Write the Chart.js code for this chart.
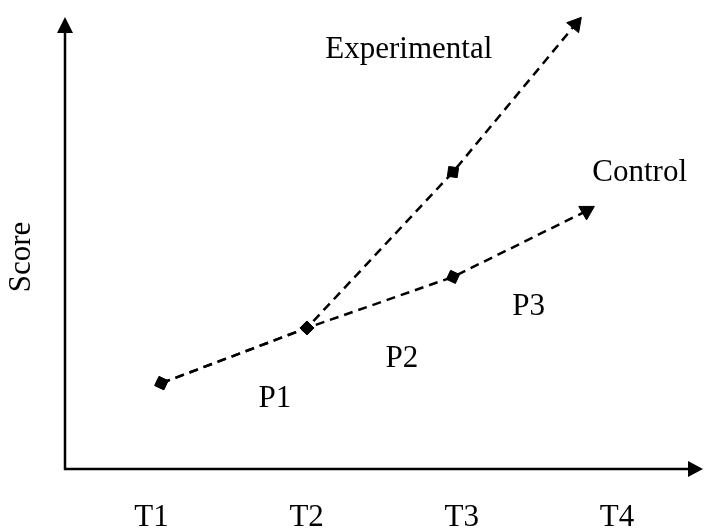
<!DOCTYPE html>
<html>
<head>
<meta charset="utf-8">
<script src="https://cdn.jsdelivr.net/npm/chart.js@4/dist/chart.umd.min.js"></script>
<style>
  html, body { margin: 0; padding: 0; background: #fff; }
  #wrap { width: 704px; height: 529px; }
</style>
</head>
<body>
<div id="wrap"><canvas id="chart"></canvas></div>
<script>
// values (x in time units, y in arbitrary score units)
const tickValues = [1, 2, 3, 4];
const tickLabels = ["T1", "T2", "T3", "T4"];
const expTimes = [1.064, 2.002, 2.943, 3.733];
const expScores = [19.0, 31.2, 65.7, 98.4];
const ctrlTimes = [1.064, 2.002, 2.943, 3.804];
const ctrlScores = [19.0, 31.2, 42.5, 57.1];
const yTitle = "Score";

const FONT = "'Liberation Serif', 'Times New Roman', serif";

// text labels placed in data units (centre x, baseline y)
const notes = [
    { text: "Experimental", x: 2.658, y: 90.9 },
    { text: "Control", x: 4.146, y: 63.7 },
    { text: "P1", x: 1.795, y: 13.7 },
    { text: "P2", x: 2.613, y: 22.6 },
    { text: "P3", x: 3.431, y: 34.1 }
];

const toPoints = (xs, ys) => xs.map((x, i) => ({ x: x, y: ys[i] }));

const axesPlugin = {
    id: "axesArrows",
    beforeDatasetsDraw(chart) {
        const { ctx, chartArea: a } = chart;
        ctx.save();
        ctx.strokeStyle = "#000";
        ctx.fillStyle = "#000";
        ctx.lineWidth = 2.5;
        // y axis
        ctx.beginPath();
        ctx.moveTo(a.left, a.bottom + 1);
        ctx.lineTo(a.left, a.top + 14);
        ctx.stroke();
        ctx.beginPath();
        ctx.moveTo(a.left, a.top);
        ctx.lineTo(a.left - 8, a.top + 16);
        ctx.lineTo(a.left + 8, a.top + 16);
        ctx.closePath();
        ctx.fill();
        // x axis
        ctx.beginPath();
        ctx.moveTo(a.left - 1, a.bottom);
        ctx.lineTo(a.right - 10, a.bottom);
        ctx.stroke();
        ctx.beginPath();
        ctx.moveTo(a.right + 3, a.bottom);
        ctx.lineTo(a.right - 12, a.bottom - 8);
        ctx.lineTo(a.right - 12, a.bottom + 8);
        ctx.closePath();
        ctx.fill();
        ctx.restore();
    },
    afterDatasetsDraw(chart) {
        const { ctx, scales } = chart;
        ctx.save();
        ctx.fillStyle = "#000";
        ctx.font = "31px " + FONT;
        ctx.textAlign = "center";
        ctx.textBaseline = "alphabetic";
        notes.forEach(n => {
            ctx.fillText(n.text, scales.x.getPixelForValue(n.x), scales.y.getPixelForValue(n.y));
        });
        // y axis title
        ctx.translate(22, 257);
        ctx.rotate(-Math.PI / 2);
        ctx.textBaseline = "middle";
        ctx.fillText(yTitle, 0, 0);
        ctx.restore();
    }
};

const lineStyle = {
    borderColor: "#000",
    borderWidth: 2.5,
    borderDash: [9, 6],
    pointBackgroundColor: "#000",
    pointBorderColor: "#000",
    pointBorderWidth: 1,
    clip: false,
    tension: 0
};

new Chart(document.getElementById("chart"), {
    type: "line",
    data: {
        datasets: [
            Object.assign({
                label: "Experimental",
                data: toPoints(expTimes, expScores),
                pointStyle: ["rect", "rectRot", "rect", "triangle"],
                pointRotation: [25, 0, 8, 40],
                pointRadius: [7, 7, 7, 9]
            }, lineStyle),
            Object.assign({
                label: "Control",
                data: toPoints(ctrlTimes, ctrlScores),
                pointStyle: ["rect", "rectRot", "rect", "triangle"],
                pointRotation: [25, 0, 25, 180],
                pointRadius: [7, 7, 7, 9]
            }, lineStyle)
        ]
    },
    options: {
        responsive: true,
        maintainAspectRatio: false,
        animation: false,
        layout: { autoPadding: false, padding: { left: 65, top: 17, right: 4, bottom: 0 } },
        plugins: {
            legend: { display: false },
            tooltip: { enabled: false }
        },
        scales: {
            x: {
                type: "linear",
                min: 0.4426,
                max: 4.535,
                grid: { display: false, drawTicks: false },
                border: { display: false },
                afterBuildTicks: s => { s.ticks = tickValues.map(v => ({ value: v })); },
                afterFit: s => { s.height = 60; },
                ticks: {
                    color: "#000",
                    padding: 30,
                    maxRotation: 0,
                    autoSkip: false,
                    font: { family: FONT, size: 31 },
                    callback: (v) => tickLabels[tickValues.indexOf(v)]
                }
            },
            y: {
                display: false,
                min: 0,
                max: 100
            }
        }
    },
    plugins: [axesPlugin]
});
</script>
</body>
</html>
